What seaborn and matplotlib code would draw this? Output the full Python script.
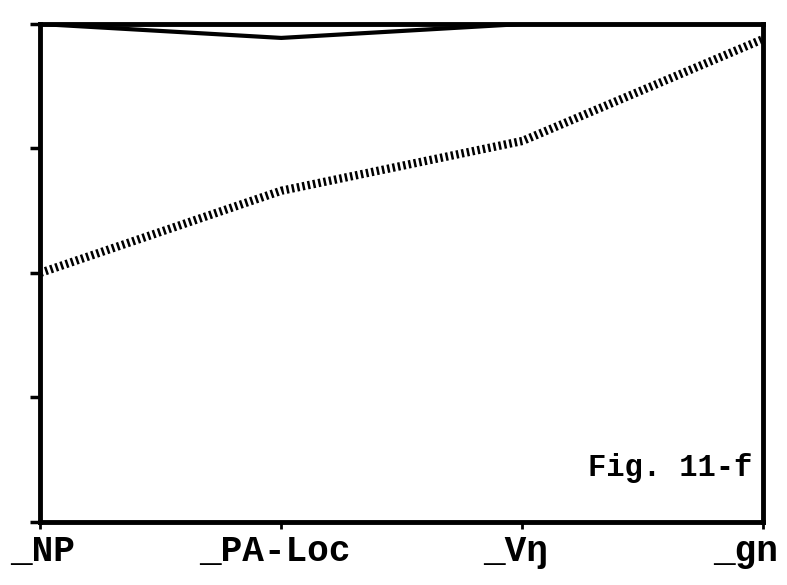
import matplotlib
matplotlib.use('Agg')
import matplotlib.pyplot as plt
import matplotlib.transforms as mtransforms
import seaborn as sns
import pandas as pd

# categorias del eje x
categorias = ['_NP', '_PA-Loc', '_Vŋ', '_gn']

# valores (escala 0-1)
serie_sup = [1.0, 1.0, 1.0, 1.0]
serie_solida = [1.0, 0.972, 1.0, 1.0]
serie_punteada = [0.5, 0.665, 0.765, 0.97]

df = pd.DataFrame({'x': categorias, 'sup': serie_sup,
                   'solida': serie_solida, 'punteada': serie_punteada})

sns.set_style('white')
plt.rcParams['font.family'] = ['Liberation Mono', 'DejaVu Sans Mono']
plt.rcParams['text.color'] = 'black'
plt.rcParams['xtick.color'] = 'black'
plt.rcParams['ytick.color'] = 'black'

fig = plt.figure(figsize=(7.87, 5.85), dpi=100)
ax = fig.add_axes([0.051, 0.108, 0.919, 0.851])

sns.lineplot(data=df, x='x', y='sup', ax=ax, color='black', linewidth=3, sort=False)
sns.lineplot(data=df, x='x', y='solida', ax=ax, color='black', linewidth=3, sort=False)
sns.lineplot(data=df, x='x', y='punteada', ax=ax, color='black', linewidth=6,
             linestyle=(0, (0.3, 0.35)), sort=False)
ax.lines[-1].set_dash_capstyle('butt')

ax.set_xlim(0, 3)
ax.set_ylim(0, 1)
ax.set_yticks([0, 0.25, 0.5, 0.75, 1.0])
ax.set_yticklabels([])
ax.set_xlabel('')
ax.set_ylabel('')
ax.tick_params(axis='y', direction='out', length=7, width=2.5, left=True, colors='black')
ax.tick_params(axis='x', direction='out', length=5, width=2, bottom=True, colors='black',
               labelsize=26, pad=4)

# desplazar etiquetas un poco a la izquierda (como en la figura original)
desplaz = [2, -6, -7, -18]
for lab, dx in zip(ax.get_xticklabels(), desplaz):
    lab.set_fontweight('bold')
    lab.set_transform(lab.get_transform() +
                      mtransforms.ScaledTranslation(dx / 100, 0, fig.dpi_scale_trans))

for s in ax.spines.values():
    s.set_visible(True)
    s.set_color('black')
    s.set_linewidth(3.5)

ax.text(0.985, 0.108, 'Fig. 11-f', transform=ax.transAxes, ha='right', va='center',
        fontsize=22, fontweight='bold', color='black')

fig.savefig('out.png', dpi=100)
